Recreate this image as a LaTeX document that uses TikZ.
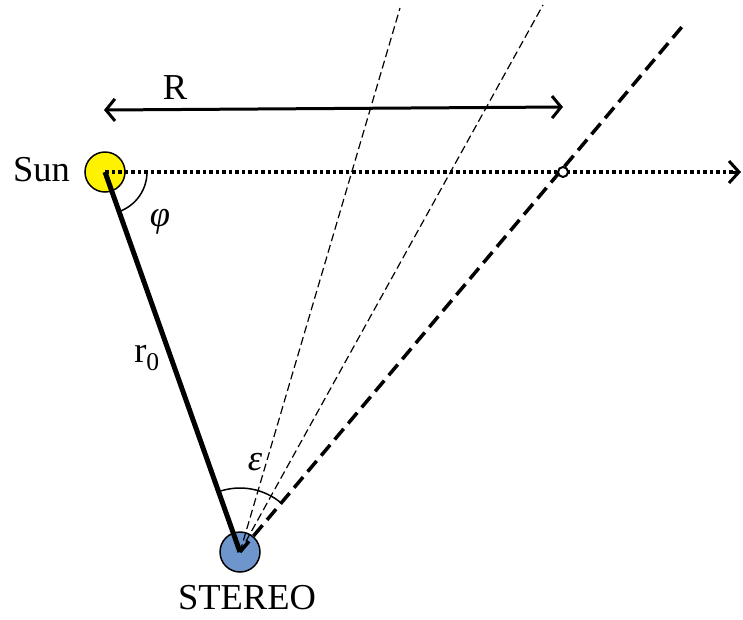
\documentclass[tikz,border=0pt]{standalone}
\usepackage{fontspec}
\setmainfont{Liberation Serif}
\usetikzlibrary{arrows.meta,calc}
\begin{document}
\begin{tikzpicture}[x=1pt,y=-1pt,
  lbl/.style={font=\fontsize{36.5}{42}\selectfont, inner sep=0pt},
  body/.style={circle, draw, line width=1.5pt, minimum size=40pt, inner sep=0pt},
  thinray/.style={line width=1.2pt, dash pattern=on 8pt off 4pt},
  thickray/.style={line width=3.5pt, dash pattern=on 14pt off 7pt},
  dotline/.style={line width=4pt, dash pattern=on 3.5pt off 3pt}
]
\useasboundingbox (0,0) rectangle (743,619);
% bodies
\node[body, fill=yellow] (sun) at (105,172) {};
\node[body, fill={rgb,255:red,110;green,150;blue,205}] (stereo) at (240,552) {};
\node[lbl, anchor=east] (sunlbl) at (70,170) {Sun};
\node[lbl] (stereolbl) at (247,598) {STEREO};
% free ends
\coordinate (e1) at (400,8);
\coordinate (e2) at (543,5);
\coordinate (e3) at (686,22);
\coordinate (xend) at (741,172);
\coordinate (xpre) at (733,172);
\coordinate (Ra) at (104,110);
\coordinate (Rb) at (563,107);
% lines
\draw[dotline] (sun.center) -- (xend);
\draw[line width=3pt, -{Straight Barb[length=10pt,width=22pt,line width=3pt]}] (xpre) -- (xend);
\draw[thinray] (stereo.center) -- (e1);
\draw[thinray] (stereo.center) -- (e2);
\draw[thickray] (stereo.center) -- (e3);
\draw[line width=5pt] (sun.center) -- (stereo.center);
\node[circle, draw, line width=2pt, fill=white, minimum size=10pt, inner sep=0pt] (cross) at (563,172) {};
% R arrow
\draw[line width=3pt, {Straight Barb[length=9pt,width=22pt,line width=3pt]}-{Straight Barb[length=9pt,width=22pt,line width=3pt]}] (Ra) -- (Rb);
\node[lbl] (Rlbl) at (175,88) {R};
% angles
\draw[line width=1.5pt] (sun.center) ++(0:42) arc[start angle=0, end angle=70.4, radius=42];
\draw[line width=1.5pt] (stereo.center) ++(-49.6:64) arc[start angle=-49.6, end angle=-109.5, radius=64];
\node[lbl] (phi) at (160,222) {\textit{φ}};
\node[lbl] (r0) at (147,358) {r\textsubscript{0}};
\node[lbl] (eps) at (255,462) {\textit{ε}};
\end{tikzpicture}
\end{document}
